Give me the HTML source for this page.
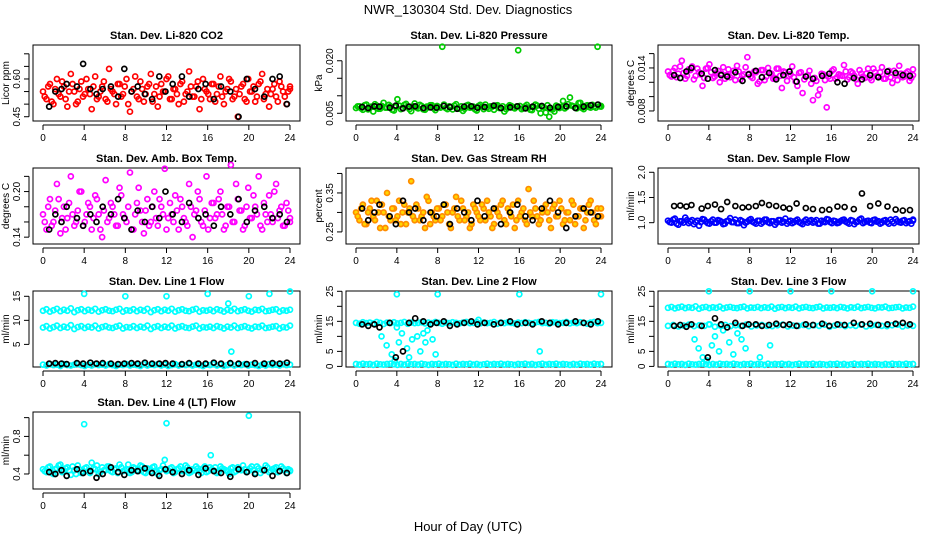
<!DOCTYPE html>
<html><head><meta charset="utf-8"><style>
html,body{margin:0;padding:0;background:#fff;}
svg{display:block;font-family:"Liberation Sans",sans-serif;}
</style></head><body>
<svg id="chart" width="936" height="540" viewBox="0 0 936 540" xmlns="http://www.w3.org/2000/svg">
<rect x="0" y="0" width="936" height="540" fill="#fff"/>
<text x="468" y="14" text-anchor="middle" font-size="13">NWR_130304  Std. Dev. Diagnostics</text>
<text x="468" y="531" text-anchor="middle" font-size="13">Hour of Day (UTC)</text>
</svg>
<script>
// ---- data ----
const xTicks = [0,4,8,12,16,20,24];
const blackHours = [0.6,1.2,1.8,2.3,3.3,3.9,4.6,5.2,5.8,6.6,7.3,7.9,8.6,9.2,9.9,10.6,11.3,11.9,12.6,13.5,14.2,15.1,15.8,16.6,17.3,18.2,19,19.8,20.6,21.5,22.3,23,23.7];

const co2Main = [.55,.52,.58,.50,.60,.53,.57,.49,.62,.55,.51,.59,.54,.56,.48,.61,.53,.57,.52,.64,.55,.50,.58,.54,.60,.47,.56,.53,.59,.51,.57,.62,.54,.49,.58,.55,.61,.52,.56,.50,.59,.54,.63,.53,.57,.48,.60,.55,.52,.58,.54,.61,.50,.56,.59,.53,.45,.57,.52,.60,.55,.51,.58,.62,.54,.49,.56,.53,.59,.55,.50,.57];
const co2Extra = [.53,.57,.51,.56,.54,.59,.52,.55,.58,.50,.56,.53,.60,.54,.57,.52,.55,.59,.51,.56,.54,.58,.53,.57,.50,.55,.61,.52,.56,.54,.58,.51,.57,.53,.55,.60,.52,.56,.54,.58,.51,.55,.57,.53,.59,.52,.56,.54,.58,.51,.57,.53,.55,.60,.52,.56,.54,.58,.51,.55,.57,.53,.59,.52,.56,.54,.58,.51,.57,.53,.55,.56];
const co2Black = [.49,.55,.56,.58,.57,.66,.56,.54,.56,.57,.53,.64,.55,.57,.54,.52,.61,.55,.58,.61,.53,.56,.58,.52,.57,.55,.45,.60,.56,.53,.60,.61,.50];

const presMain = [6.5,7,6,7.5,6.8,5.5,7.2,6.3,8,6.6,7,5.8,9,6.2,7.4,6.9,5.6,7.8,6.4,7.1,6,6.7,7.3,5.9,6.8,24,6.5,7,6.1,7.6,6.3,5.7,7.2,6.6,6.9,5.8,7.4,6.2,6.7,7,6,7.3,6.5,5.5,6.8,7.1,6.4,23,6.2,7,6.6,5.9,7.5,6.3,6.9,5.2,4,6.1,7.2,6.5,8.5,6.8,9.5,7,6.4,8,6.2,7.3,6.6,6.9,24,7.1];
const presExtra = [7,6.4,7.3,6.1,6.9,7.6,6.3,7.1,6.6,7.4,6,6.8,7.2,6.5,7.7,6.2,7,6.7,7.4,6.1,6.9,7.3,6.4,7.1,6.6,7.5,6.2,6.8,7.2,6.5,7,6.3,7.4,6.7,6.1,7.1,6.8,7.5,6.3,6.9,7.2,6.5,7,6.2,7.3,6.6,6.9,7.1,6.4,7.4,6,6.8,7.2,5,6.7,7.3,6.2,5.5,7,6.8,6.4,7.6,7.2,6.6,7.9,6.5,7.1,6.8,7.4,6.6,7,6.9];
const presBlack = [6.8,6.5,7,6.9,6.6,7.2,6.4,6.9,7,6.5,6.7,6.6,7.1,6.8,6.3,6.9,7,6.6,6.8,7.2,6.5,6.7,7,6.4,6.9,7.1,6.6,6.8,7,6.5,6.9,7.3,7.5];

const tempMain = [13.5,12.8,14,13.2,15,12.5,13.8,14.2,12.9,13.4,11.5,13.9,14.5,12.6,13.3,12,14.1,13,12.7,13.6,14.3,12.4,13.1,15.5,12.8,13.5,11.8,13.7,12.3,14,13.2,12.6,13.9,11.2,13.4,12.9,14.2,12.1,13.3,10.5,12.8,13.6,9.5,12.2,11,13.1,8.5,12.5,13.8,12.7,13,14.4,12.4,13.5,12.9,11.8,13.2,12.6,13.9,12.3,13.4,12.8,14.1,12.5,13.6,11.9,13,14.3,12.7,13.3,12.2,13.8];
const tempExtra = [13,13.6,12.7,14.2,13.3,12.9,13.7,12.4,13.9,13.1,12.6,14,13.4,12.8,13.6,13.2,12.5,13.8,13,12.3,13.5,12.9,14.1,13.2,12.6,13.4,12.1,13.7,12.8,13.3,12.5,13.9,12.9,13.5,12.2,13.1,12.7,11.5,13.4,12.4,13,11.8,12.6,10.2,13.2,12.3,12.8,13.6,12.5,13.1,12.9,13.5,12.7,13.3,12.4,13.7,12.8,13.2,12.6,13.9,12.9,13.4,12.5,13.1,12.7,13.6,12.3,13.2,12.8,13.5,12.6,13];
const tempBlack = [13,12.6,13.5,14,13.2,12.5,13.7,13,12.8,13.4,12.2,13.1,13.6,12.7,13.3,12.4,13,13.5,12.1,12.8,12.5,12.9,13.2,12,11.8,12.6,12.4,13,12.7,13.5,13.3,13,12.9];

const ambMain = [17,15,19,16,21,14.5,18,16.5,22,15.5,17.5,20,16,18.5,15,19.5,17,14,21.5,16.5,18,15.5,20.5,17,16,22.5,15,18.5,17.5,14.5,19,16,20,15.5,18,23,16.5,17,19.5,15,18,16,21,14,17.5,19,15.5,22,16.5,18.5,17,20,15,18,23.5,16,19,17.5,15.5,20.5,16.5,18,22,15,17,19.5,16,21,17.5,15.5,18.5,16.5];
const ambExtra = [16,18,15.5,17.5,19,16.5,15,18.5,17,16,20,15.5,17,18,16.5,19,15,17.5,16,18.5,17,15.5,19.5,16.5,18,15,17,20.5,16,17.5,15.5,18,16.5,19,17,15,18.5,16,17.5,19,16.5,15.5,18,17,20,16,17.5,15,18.5,16.5,19,17,15.5,18,16,21,17.5,15,18,16.5,19.5,17,15.5,18.5,16,17,20,16.5,18,15.5,17.5,16];
const ambBlack = [15,17,16,18,16.5,15.5,17,16,18,17,19,16.5,15,17.5,16,18,16.5,20,17,16,18.5,16.5,17,15.5,18,17,19,16,17.5,18,16.5,17,16];

const rhMain = [30,28,32,27,31,29,33,26,30,35,28,31,29,27,32,30,38,28,31,29,26,33,30,28,31,29,32,27,30,34,28,31,29,26,32,30,28,31,33,29,27,30,32,28,31,29,26,33,30,28,36,29,31,27,30,32,28,31,29,33,27,30,28,32,29,31,26,30,33,28,31,29];
const rhExtra = [29,31,27,30,33,28,30,32,26,29,31,28,33,30,27,31,29,32,28,30,34,27,29,31,28,32,30,26,31,29,33,28,30,27,31,29,32,28,30,26,31,29,33,27,30,32,28,29,31,27,30,33,29,28,31,30,26,32,29,31,28,30,33,27,29,31,28,32,30,27,29,31];
const rhBlack = [31,28,30,32,29,27,33,30,31,28,30,29,32,27,31,30,28,33,29,31,27,30,32,29,28,31,33,30,26,29,31,30,29];

const flowMain = [104,100,108,96,103,110,99,105,101,94,107,102,98,106,100,104,97,103,109,101,99,105,95,102,107,100,104,98,106,101,103,96,105,100,108,102,99,104,101,97,106,103,100,105,98,102,107,101,104,99,103,106,100,105,97,102,108,101,104,99,106,103,100,105,98,102,107,101,104,99,103,106];
const flowExtra = [101,106,98,103,100,105,102,97,104,101,106,99,103,100,105,102,98,104,101,106,99,103,100,105,102,98,104,101,106,99,103,100,105,102,98,104,101,106,99,103,100,105,102,98,104,101,106,99,103,100,105,102,98,104,101,106,99,103,100,105,102,98,104,101,106,99,103,100,105,102,98,104];
const flowBlack = [133,134,132,135,128,133,136,127,141,133,130,131,133,139,135,133,130,128,138,129,127,125,126,132,131,127,158,133,138,132,126,124,125];

const bandHigh = [12,12.3,11.8,12.1,12.4,11.9,12.2,12,12.5,11.7,12.1,12.3,11.9,12.2,12,12.4,11.8,12.1,12.3,12,11.9,12.2,12.4,11.8,12.1,12,12.3,11.9,12.2,12,12.4,11.7,12.1,12.3,11.9,12.2,12,12.4,11.8,12.1,12.3,12,11.9,12.2,12.4,11.8,12.1,12,12.2,11.9,12.3,12.1,11.8,12.2,12,12.4,11.9,12.1,12.3,12,11.8,12.2,12.1,12.4,11.9,12,12.2,12.3,11.8,12.1,12,12.2];
const bandMid = [8.5,8.8,8.3,8.6,8.9,8.4,8.7,8.5,9,8.2,8.6,8.8,8.4,8.7,8.5,8.9,8.3,8.6,8.8,8.5,8.4,8.7,8.9,8.3,8.6,8.5,8.8,8.4,8.7,8.5,8.9,8.2,8.6,8.8,8.4,8.7,8.5,8.9,8.3,8.6,8.8,8.5,8.4,8.7,8.9,8.3,8.6,8.5,8.7,8.4,8.8,8.6,8.3,8.7,8.5,8.9,8.4,8.6,8.8,8.5,8.3,8.7,8.6,8.9,8.4,8.5,8.7,8.8,8.3,8.6,8.5,8.9];
const bandLow = [0.8,0.6,0.9,0.7,0.8,0.5,0.9,0.7,0.6,0.8,0.9,0.7,0.5,0.8,0.6,0.9,0.7,0.8,0.6,0.9,0.7,0.5,0.8,0.7,0.9,0.6,0.8,0.7,0.5,0.9,0.6,0.8,0.7,0.9,0.6,0.8,0.5,0.7,0.9,0.6,0.8,0.7,0.9,0.6,0.8,0.7,0.5,0.8,0.7,0.9,0.6,0.8,0.5,0.7,0.9,0.6,0.8,0.7,0.9,0.6,0.8,0.7,0.5,0.8,0.6,0.9,0.7,0.8,0.6,0.9,0.7,0.8];
const line1OutHours = [4,8,12,16,18,18.3,20,22,24];
const line1OutVals = [15.5,15,15,15.5,13.5,3.5,15,15.5,16];
const line1Black = [1,1.1,1,0.9,1.1,1,1.2,1,1.1,1,0.9,1,1.1,1,1.2,1,1,1.1,1,0.9,1.1,1,1,1.2,1,1.1,1,0.9,1.1,1,1.1,1,1.2];

const line2High = [14.5,14.2,14.7,14.4,14.6,14.3,14.8,14.5,14.1,14.6,14.4,14.7,14.3,14.5,14.8,14.2,14.6,14.4,14.5,14.7,14.3,14.6,14.4,14.8,14.5,14.2,14.6,14.4,14.7,14.5,14.3,14.6,14.8,14.4,14.5,14.7,14.3,14.6,14.4,14.5,14.8,14.2,14.6,14.4,14.7,14.5,14.3,14.6,14.4,14.7,14.5,14.3,14.6,14.8,14.4,14.5,14.2,14.7,14.6,14.4,14.5,14.8,14.3,14.6,14.4,14.7,14.5,14.2,14.6,14.8,14.4,14.5];
const line2OutHours = [2.5,3,3.5,3.8,4,4.2,4.5,5,5.5,6,6.3,6.8,7,7.5,7.8,8,4,16,24,18,12,5.2,6.6];
const line2OutVals = [10,7,4,2,13,8,11,6,9,10,5,8,12,9,4,24,24,24,24,5,15.5,3,11];
const line2Black = [14,13.5,14,13,14.5,3,5,14.5,16,15,14,14.5,15,13.5,14,14.5,15,14,14.5,14,14.5,15,14,14.5,14,15,14.5,14,14.5,15,14.5,14,15];

const line3Top = [19.5,19.8,19.3,19.6,19.9,19.4,19.7,19.5,20,19.2,19.6,19.8,19.4,19.7,19.5,19.9,19.3,19.6,19.8,19.5,19.4,19.7,19.9,19.3,19.6,19.5,19.8,19.4,19.7,19.5,19.9,19.2,19.6,19.8,19.4,19.7,19.5,19.9,19.3,19.6,19.8,19.5,19.4,19.7,19.9,19.3,19.6,19.5,19.7,19.4,19.8,19.6,19.3,19.7,19.5,19.9,19.4,19.6,19.8,19.5,19.3,19.7,19.6,19.9,19.4,19.5,19.7,19.8,19.3,19.6,19.5,19.9];
const line3High = [13.5,13.8,13.3,13.6,13.9,13.4,13.7,13.5,14,13.2,13.6,13.8,13.4,13.7,13.5,13.9,13.3,13.6,13.8,13.5,13.4,13.7,13.9,13.3,13.6,13.5,13.8,13.4,13.7,13.5,13.9,13.2,13.6,13.8,13.4,13.7,13.5,13.9,13.3,13.6,13.8,13.5,13.4,13.7,13.9,13.3,13.6,13.5];
const line3OutHours = [2.6,3,3.4,3.8,4,4.3,4.6,5,5.4,6,6.4,6.8,7.2,7.6,8,4,12,16,20,24,9,10];
const line3OutVals = [9,6,3,2,25,7,10,5,12,8,4,11,9,6,25,14,25,25,25,25,3,7];
const line3Black = [13.5,13.8,13.2,14,13.5,3,16,14,13,14.5,13.5,14,14,13.5,13.8,14.2,13.8,14,13.5,14,13.8,14.2,13.5,14,13.8,14.5,14,14.2,13.8,14,14.2,14.5,14];

const line4Main = [45,42,48,40,46,50,43,47,39,44,49,41,46,43,52,45,40,47,44,48,42,46,50,43,45,41,47,44,49,42,46,43,48,40,45,55,44,47,42,46,43,49,41,45,48,43,46,42,47,44,41,48,45,43,46,42,47,44,45,43,48,41,46,44,49,42,45,47,43,46,41,44];
const line4Extra = [43,47,41,45,49,42,46,44,48,40,45,43,47,41,46,49,42,44,48,43,45,41,47,44,50,42,46,43,48,41,45,47,42,44,49,43,46,41,45,48,43,47,42,44,46,41,48,43,45,47,42,46,44,40,47,43,45,49,42,46,44,48,41,45,47,43,46,42,48,44,45,43];
const line4OutHours = [4,12,20,16.3];
const line4OutVals = [0.93,0.94,1.02,0.6];
const line4Black = [42,40,44,38,45,41,43,36,40,47,42,39,44,43,46,41,38,45,42,40,44,39,46,43,41,37,45,42,40,44,38,43,41];

// ---- layout ----
const NS = "http://www.w3.org/2000/svg";
const svg = document.getElementById("chart");
const cols = [{l:33,r:300,x0:43,x24:290},{l:346,r:612,x0:356,x24:601},{l:658,r:919,x0:668,x24:913}];
const rows = [{t:45,b:121},{t:168,b:244},{t:291,b:367},{t:412,b:489}];

function el(tag, attrs, parent){ const e=document.createElementNS(NS,tag); for(const k in attrs) e.setAttribute(k,attrs[k]); (parent||svg).appendChild(e); return e; }

function makePanel(ci, ri, title, ylab, ymin, ymax, ticks, labels, slug){
  const c=cols[ci], r=rows[ri];
  const g=el("g",{});
  
  
  const xs=h=>c.x0+(c.x24-c.x0)*h/24;
  const ys=v=>r.b-(v-ymin)/(ymax-ymin)*(r.b-r.t);
  const box=el("rect",{x:c.l,y:r.t,width:c.r-c.l,height:r.b-r.t,fill:"none",stroke:"#000","stroke-width":1},g);
  
  
  const t=el("text",{x:(c.l+c.r)/2,y:r.t-6,"text-anchor":"middle","font-size":11,"font-weight":"bold"},g);
  t.textContent=title;
  
  
  const xa=el("g",{},g);
  
  
  el("line",{x1:xs(0),x2:xs(24),y1:r.b+4,y2:r.b+4,stroke:"#000"},xa);
  xTicks.forEach(h=>{
    el("line",{x1:xs(h),x2:xs(h),y1:r.b+4,y2:r.b+9,stroke:"#000"},xa);
    const tl=el("text",{x:xs(h),y:r.b+20,"text-anchor":"middle","font-size":10},xa);
    tl.textContent=h;
    
    
  });
  const ya=el("g",{},g);
  
  
  el("line",{x1:c.l-4,x2:c.l-4,y1:ys(ticks[0]),y2:ys(ticks[ticks.length-1]),stroke:"#000"},ya);
  ticks.forEach((v,i)=>{
    el("line",{x1:c.l-9,x2:c.l-4,y1:ys(v),y2:ys(v),stroke:"#000"},ya);
    if(labels[i]){
      const yl=el("text",{x:0,y:0,"text-anchor":"middle","font-size":10,transform:`translate(${c.l-13},${ys(v)}) rotate(-90)`},ya);
      yl.textContent=labels[i];
      
      
    }
  });
  const yt=el("text",{x:0,y:0,"text-anchor":"middle","font-size":10,transform:`translate(${c.l-24},${(r.t+r.b)/2}) rotate(-90)`},g);
  yt.textContent=ylab;
  
  
  return {g,xs,ys};
}

function points(p, hours, vals, scale, stroke, fill, name, offset){
  const sg=el("g",{},p.g);
  
  
  const n=vals.length, off=offset||0;
  vals.forEach((v,i)=>{
    const h = hours ? hours[i] : Math.min(24,(i+off)*24/(n-1));
    const cc=el("circle",{cx:p.xs(h),cy:p.ys(v*scale),r:2.5,fill:fill||"none",stroke:stroke,"stroke-width":1.7},sg);
    
    
  });
}

let p;
p=makePanel(0,0,"Stan. Dev. Li-820 CO2","Licor ppm",0.433,0.735,[0.45,0.5,0.55,0.6,0.65,0.7],["0.45","","","0.60","",""],"co2");
points(p,null,co2Main,1,"#ff0000",null,"co2-red-series");
points(p,null,co2Extra,1,"#ff0000",null,"co2-red-series-b",0.5);
points(p,blackHours,co2Black,1,"#000",null,"co2-black-series");

p=makePanel(1,0,"Stan. Dev. Li-820 Pressure","kPa",0.0028,0.0245,[0.005,0.01,0.015,0.02],["0.005","","","0.020"],"pressure");
points(p,null,presMain,0.001,"#00cc00",null,"pressure-green-series");
points(p,null,presExtra,0.001,"#00cc00",null,"pressure-green-series-b",0.5);
points(p,blackHours,presBlack,0.001,"#000",null,"pressure-black-series");

p=makePanel(2,0,"Stan. Dev. Li-820 Temp.","degrees C",0.0066,0.0172,[0.008,0.01,0.012,0.014,0.016],["0.008","","","0.014",""],"temp");
points(p,null,tempMain,0.001,"#ff00ff",null,"temp-magenta-series");
points(p,null,tempExtra,0.001,"#ff00ff",null,"temp-magenta-series-b",0.5);
points(p,blackHours,tempBlack,0.001,"#000",null,"temp-black-series");

p=makePanel(0,1,"Stan. Dev. Amb. Box Temp.","degrees C",0.131,0.231,[0.14,0.16,0.18,0.2,0.22],["0.14","","","0.20",""],"ambbox");
points(p,null,ambMain,0.01,"#ff00ff",null,"ambbox-magenta-series");
points(p,null,ambExtra,0.01,"#ff00ff",null,"ambbox-magenta-series-b",0.5);
points(p,blackHours,ambBlack,0.01,"#000",null,"ambbox-black-series");

p=makePanel(1,1,"Stan. Dev. Gas Stream RH","percent",0.219,0.414,[0.25,0.3,0.35,0.4],["0.25","","0.35",""],"rh");
points(p,null,rhMain,0.01,"#ff8c00","#ffd700","rh-orange-series");
points(p,null,rhExtra,0.01,"#ff8c00","#ffd700","rh-orange-series-b",0.5);
points(p,blackHours,rhBlack,0.01,"#000",null,"rh-black-series");

p=makePanel(2,1,"Stan. Dev. Sample Flow","ml/min",0.577,2.085,[1,1.5,2],["1.0","1.5","2.0"],"sampleflow");
points(p,null,flowMain,0.01,"#0000ff",null,"sampleflow-blue-series");
points(p,null,flowExtra,0.01,"#0000ff",null,"sampleflow-blue-series-b",0.5);
points(p,blackHours,flowBlack,0.01,"#000",null,"sampleflow-black-series");

p=makePanel(0,2,"Stan. Dev. Line 1 Flow","ml/min",0.3,16.1,[5,10,15],["5","10","15"],"line1");
points(p,null,bandHigh,1,"#00ffff",null,"line1-cyan-high");
points(p,null,bandMid,1,"#00ffff",null,"line1-cyan-mid");
points(p,null,bandLow,1,"#00ffff",null,"line1-cyan-low");
points(p,line1OutHours,line1OutVals,1,"#00ffff",null,"line1-cyan-outliers");
points(p,blackHours,line1Black,1,"#000",null,"line1-black-series");

p=makePanel(1,2,"Stan. Dev. Line 2 Flow","ml/min",-0.2,25.1,[0,5,10,15,20,25],["0","5","","15","","25"],"line2");
points(p,null,line2High,1,"#00ffff",null,"line2-cyan-high");
points(p,null,bandLow,1,"#00ffff",null,"line2-cyan-low");
points(p,line2OutHours,line2OutVals,1,"#00ffff",null,"line2-cyan-outliers");
points(p,blackHours,line2Black,1,"#000",null,"line2-black-series");

p=makePanel(2,2,"Stan. Dev. Line 3 Flow","ml/min",-0.2,25.1,[0,5,10,15,20,25],["0","5","","15","","25"],"line3");
points(p,null,line3Top,1,"#00ffff",null,"line3-cyan-top");
points(p,null,line3High,1,"#00ffff",null,"line3-cyan-high");
points(p,null,bandLow,1,"#00ffff",null,"line3-cyan-low");
points(p,line3OutHours,line3OutVals,1,"#00ffff",null,"line3-cyan-outliers");
points(p,blackHours,line3Black,1,"#000",null,"line3-black-series");

p=makePanel(0,3,"Stan. Dev. Line 4 (LT) Flow","ml/min",0.24,1.06,[0.4,0.6,0.8,1.0],["0.4","","0.8",""],"line4");
points(p,null,line4Main,0.01,"#00ffff",null,"line4-cyan-series");
points(p,null,line4Extra,0.01,"#00ffff",null,"line4-cyan-series-b",0.5);
points(p,line4OutHours,line4OutVals,1,"#00ffff",null,"line4-cyan-outliers");
points(p,blackHours,line4Black,0.01,"#000",null,"line4-black-series");
</script>
</body></html>
